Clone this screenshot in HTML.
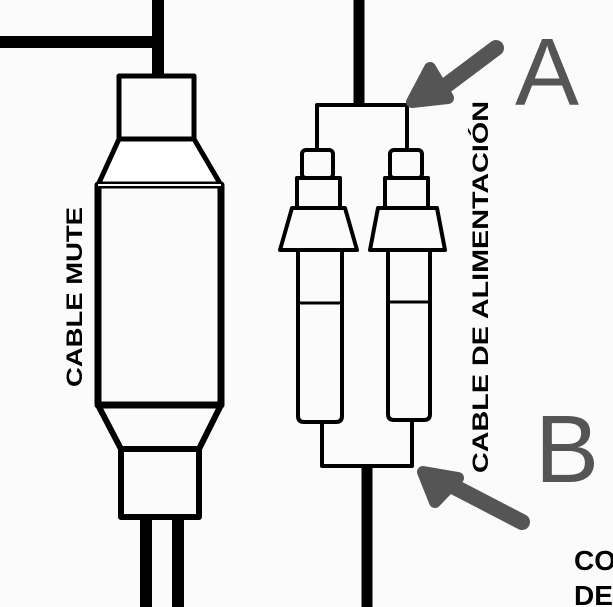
<!DOCTYPE html>
<html><head><style>
html,body{margin:0;padding:0;background:#fbfbfb;}
svg{display:block;}
</style></head><body>
<svg width="613" height="607" viewBox="0 0 613 607" xmlns="http://www.w3.org/2000/svg">
<rect width="613" height="607" fill="#fbfbfb"/>
<g fill="none" stroke="#000" stroke-linejoin="round">
  <line x1="0" y1="42" x2="164" y2="42" stroke-width="12"/>
  <line x1="158" y1="0" x2="158" y2="76" stroke-width="12"/>
  <rect x="119" y="76" width="75" height="63" stroke-width="5"/>
  <polygon points="119,139 194,139 221,185 98,185" fill="#fff" stroke-width="5"/>
  <rect x="98" y="185" width="123" height="220" stroke-width="7"/>
  <line x1="98" y1="185" x2="221" y2="185" stroke="#fbfbfb" stroke-width="2"/>
  <polygon points="98,405 221,405 199,449 121,449" stroke-width="6"/>
  <rect x="121" y="449" width="78" height="68" stroke-width="6"/>
  <line x1="146" y1="517" x2="146" y2="607" stroke-width="12"/>
  <line x1="178" y1="517" x2="178" y2="607" stroke-width="12"/>
  <line x1="359" y1="0" x2="359" y2="106" stroke-width="11"/>
  <polyline points="317,150 317,105 407,105 407,150" stroke-width="4"/>
  <rect x="302" y="150" width="31" height="28" rx="4" stroke-width="4"/>
  <rect x="297" y="178" width="43" height="30" stroke-width="4"/>
  <polygon points="292,208 345,208 357,250 280,250" stroke-width="4"/>
  <path d="M298,250 V416 Q298,422 304,422 H336 Q342,422 342,416 V250" stroke-width="4"/>
  <line x1="298" y1="303" x2="342" y2="303" stroke-width="3"/>
  <rect x="390" y="150" width="32" height="28" rx="4" stroke-width="4"/>
  <rect x="385" y="178" width="43" height="30" stroke-width="4"/>
  <polygon points="378,208 437,208 445,250 370,250" stroke-width="4"/>
  <path d="M388,250 V414 Q388,420 394,420 H424 Q430,420 430,414 V250" stroke-width="4"/>
  <line x1="388" y1="302" x2="430" y2="302" stroke-width="3"/>
  <polyline points="322,422 322,466 412,466 412,420" stroke-width="4"/>
  <line x1="367" y1="466" x2="367" y2="607" stroke-width="11"/>
</g>
<g stroke="#555" fill="#555" stroke-linecap="round" stroke-linejoin="round">
  <line x1="496" y1="48" x2="440" y2="90" stroke-width="16"/>
  <polygon points="430,68 412,102 448,98" stroke-width="12"/>
  <line x1="522" y1="522" x2="445" y2="482" stroke-width="16"/>
  <polygon points="423,472 435,502 458,478" stroke-width="12"/>
</g>
<g font-family="Liberation Sans, sans-serif" fill="#000">
  <text transform="translate(82,297) rotate(-90)" text-anchor="middle" font-size="22" font-weight="bold" textLength="180" lengthAdjust="spacingAndGlyphs">CABLE MUTE</text>
  <text transform="translate(488,287) rotate(-90)" text-anchor="middle" font-size="22" font-weight="bold" textLength="372" lengthAdjust="spacingAndGlyphs">CABLE DE ALIMENTACIÓN</text>
  <text x="515" y="105" font-size="96" fill="#555">A</text>
  <text x="535" y="482" font-size="96" fill="#555">B</text>
  <text x="574" y="570" font-size="28" font-weight="bold">CO</text>
  <text x="574" y="605" font-size="28" font-weight="bold">DE</text>
</g>
</svg>
</body></html>
